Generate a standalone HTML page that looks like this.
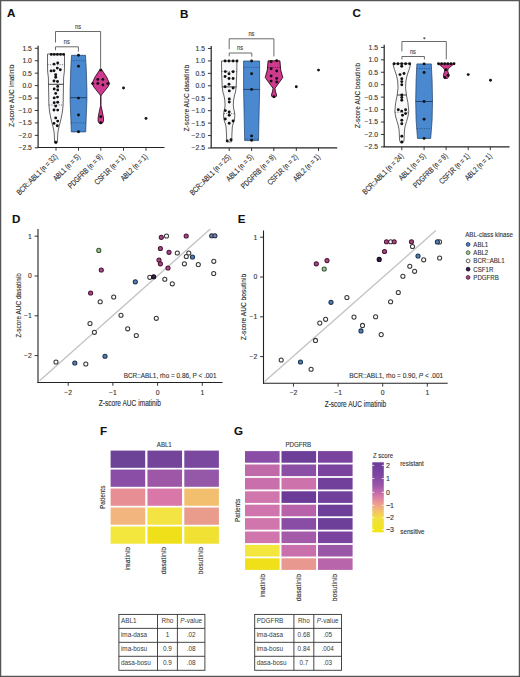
<!DOCTYPE html>
<html><head><meta charset="utf-8"><style>
html,body{margin:0;padding:0;background:#fff;overflow:hidden;width:520px;height:677px;}
svg{display:block;font-family:"Liberation Sans", sans-serif;}
text{stroke:#333;stroke-width:0.12px;paint-order:stroke;}
text.nb{stroke:none;}
</style></head><body>
<svg width="520" height="677" viewBox="0 0 520 677">
<rect width="520" height="677" fill="#fff"/>
<text x="6.9" y="17.0" font-size="11.6" text-anchor="start" fill="#111" font-weight="bold" >A</text>
<text x="179.9" y="17.5" font-size="11.6" text-anchor="start" fill="#111" font-weight="bold" >B</text>
<text x="352.4" y="16.5" font-size="11.6" text-anchor="start" fill="#111" font-weight="bold" >C</text>
<line x1="38.1" y1="45.67999999999999" x2="38.1" y2="147.5" stroke="#222" stroke-width="1.2" />
<line x1="34.800000000000004" y1="48.279999999999994" x2="38.1" y2="48.279999999999994" stroke="#222" stroke-width="0.9" />
<text x="31.900000000000002" y="50.67999999999999" font-size="6.8" text-anchor="end" fill="#333" font-weight="normal" >1.5</text>
<line x1="34.800000000000004" y1="60.72" x2="38.1" y2="60.72" stroke="#222" stroke-width="0.9" />
<text x="31.900000000000002" y="63.12" font-size="6.8" text-anchor="end" fill="#333" font-weight="normal" >1.0</text>
<line x1="34.800000000000004" y1="73.16" x2="38.1" y2="73.16" stroke="#222" stroke-width="0.9" />
<text x="31.900000000000002" y="75.56" font-size="6.8" text-anchor="end" fill="#333" font-weight="normal" >0.5</text>
<line x1="34.800000000000004" y1="85.6" x2="38.1" y2="85.6" stroke="#222" stroke-width="0.9" />
<text x="31.900000000000002" y="88.0" font-size="6.8" text-anchor="end" fill="#333" font-weight="normal" >0.0</text>
<line x1="34.800000000000004" y1="98.03999999999999" x2="38.1" y2="98.03999999999999" stroke="#222" stroke-width="0.9" />
<text x="31.900000000000002" y="100.44" font-size="6.8" text-anchor="end" fill="#333" font-weight="normal" >−0.5</text>
<line x1="34.800000000000004" y1="110.47999999999999" x2="38.1" y2="110.47999999999999" stroke="#222" stroke-width="0.9" />
<text x="31.900000000000002" y="112.88" font-size="6.8" text-anchor="end" fill="#333" font-weight="normal" >−1.0</text>
<line x1="34.800000000000004" y1="122.91999999999999" x2="38.1" y2="122.91999999999999" stroke="#222" stroke-width="0.9" />
<text x="31.900000000000002" y="125.32" font-size="6.8" text-anchor="end" fill="#333" font-weight="normal" >−1.5</text>
<line x1="34.800000000000004" y1="135.35999999999999" x2="38.1" y2="135.35999999999999" stroke="#222" stroke-width="0.9" />
<text x="31.900000000000002" y="137.76" font-size="6.8" text-anchor="end" fill="#333" font-weight="normal" >−2.0</text>
<line x1="34.800000000000004" y1="147.79999999999998" x2="38.1" y2="147.79999999999998" stroke="#222" stroke-width="0.9" />
<text x="31.900000000000002" y="150.2" font-size="6.8" text-anchor="end" fill="#333" font-weight="normal" >−2.5</text>
<text x="14.0" y="95.8" font-size="8.0" text-anchor="middle" fill="#2a2a2a" font-weight="normal" transform="rotate(-90 14.0 95.8)" textLength="62.60" lengthAdjust="spacingAndGlyphs" >Z-score AUC imatinib</text>
<line x1="37.5" y1="147.5" x2="164.5" y2="147.5" stroke="#222" stroke-width="1.2" />
<line x1="56.0" y1="147.5" x2="56.0" y2="150.7" stroke="#222" stroke-width="0.9" />
<text x="58.1" y="157.2" font-size="7.9" text-anchor="end" fill="#2a2a2a" font-weight="normal" transform="rotate(-45 58.1 157.2)" textLength="54.26" lengthAdjust="spacingAndGlyphs" >BCR::ABL1 (n = 32)</text>
<line x1="78.5" y1="147.5" x2="78.5" y2="150.7" stroke="#222" stroke-width="0.9" />
<text x="80.6" y="157.2" font-size="7.9" text-anchor="end" fill="#2a2a2a" font-weight="normal" transform="rotate(-45 80.6 157.2)" textLength="34.53" lengthAdjust="spacingAndGlyphs" >ABL1 (n = 5)</text>
<line x1="100.8" y1="147.5" x2="100.8" y2="150.7" stroke="#222" stroke-width="0.9" />
<text x="102.89999999999999" y="157.2" font-size="7.9" text-anchor="end" fill="#2a2a2a" font-weight="normal" transform="rotate(-45 102.89999999999999 157.2)" textLength="45.06" lengthAdjust="spacingAndGlyphs" >PDGFRB (n = 9)</text>
<line x1="123.5" y1="147.5" x2="123.5" y2="150.7" stroke="#222" stroke-width="0.9" />
<text x="125.6" y="157.2" font-size="7.9" text-anchor="end" fill="#2a2a2a" font-weight="normal" transform="rotate(-45 125.6 157.2)" textLength="39.62" lengthAdjust="spacingAndGlyphs" >CSF1R (n = 1)</text>
<line x1="146.0" y1="147.5" x2="146.0" y2="150.7" stroke="#222" stroke-width="0.9" />
<text x="148.1" y="157.2" font-size="7.9" text-anchor="end" fill="#2a2a2a" font-weight="normal" transform="rotate(-45 148.1 157.2)" textLength="34.53" lengthAdjust="spacingAndGlyphs" >ABL2 (n = 1)</text>
<path d="M55.5,42.5 L55.5,31.5 L100.6,31.5 L100.6,68.4" fill="none" stroke="#5a5a5a" stroke-width="0.9"/>
<text x="78.1" y="28.9" font-size="6.8" text-anchor="middle" fill="#444" font-weight="normal" textLength="6.00" lengthAdjust="spacingAndGlyphs" >ns</text>
<path d="M55.5,50.2 L55.5,46.8 L78.4,46.8 L78.4,51.7" fill="none" stroke="#5a5a5a" stroke-width="0.9"/>
<text x="66.8" y="43.7" font-size="6.8" text-anchor="middle" fill="#444" font-weight="normal" textLength="6.00" lengthAdjust="spacingAndGlyphs" >ns</text>
<path d="M64.50,54.00 L64.50,65.00 L64.40,71.00 L63.60,78.00 L63.50,84.00 L63.30,95.00 L63.10,105.00 L62.40,112.00 L61.20,118.00 L60.00,123.00 L58.70,128.00 L57.80,133.00 L57.50,140.00 L57.30,142.50 L56.60,143.50 L55.40,143.50 L54.70,142.50 L54.50,140.00 L54.20,133.00 L53.30,128.00 L52.00,123.00 L50.80,118.00 L49.60,112.00 L48.90,105.00 L48.70,95.00 L48.50,84.00 L48.40,78.00 L47.60,71.00 L47.50,65.00 L47.50,54.00 Z" fill="#f8f8fa" stroke="#4a4a4a" stroke-width="0.85" stroke-linejoin="round"/>
<line x1="47.5" y1="64.7" x2="64.5" y2="64.7" stroke="#333" stroke-width="0.6" stroke-dasharray="1.2,1.2"/>
<line x1="48.50545454545455" y1="84.3" x2="63.49454545454545" y2="84.3" stroke="#2a2a2a" stroke-width="0.9" />
<line x1="48.9" y1="105.0" x2="63.1" y2="105.0" stroke="#333" stroke-width="0.6" stroke-dasharray="1.2,1.2"/>
<circle cx="51.3" cy="54.4" r="1.45" fill="#111" stroke="none" stroke-width="0"/>
<circle cx="54.3" cy="54.4" r="1.45" fill="#111" stroke="none" stroke-width="0"/>
<circle cx="57.4" cy="54.4" r="1.45" fill="#111" stroke="none" stroke-width="0"/>
<circle cx="60.5" cy="54.4" r="1.45" fill="#111" stroke="none" stroke-width="0"/>
<circle cx="63.6" cy="54.4" r="1.45" fill="#111" stroke="none" stroke-width="0"/>
<circle cx="54" cy="64.1" r="1.45" fill="#111" stroke="none" stroke-width="0"/>
<circle cx="57.7" cy="63" r="1.45" fill="#111" stroke="none" stroke-width="0"/>
<circle cx="57.3" cy="68.1" r="1.45" fill="#111" stroke="none" stroke-width="0"/>
<circle cx="60.3" cy="69.7" r="1.45" fill="#111" stroke="none" stroke-width="0"/>
<circle cx="51.1" cy="70.9" r="1.45" fill="#111" stroke="none" stroke-width="0"/>
<circle cx="54" cy="70.7" r="1.45" fill="#111" stroke="none" stroke-width="0"/>
<circle cx="55.7" cy="74.7" r="1.45" fill="#111" stroke="none" stroke-width="0"/>
<circle cx="55.7" cy="77.3" r="1.45" fill="#111" stroke="none" stroke-width="0"/>
<circle cx="54" cy="81" r="1.45" fill="#111" stroke="none" stroke-width="0"/>
<circle cx="57.5" cy="81.5" r="1.45" fill="#111" stroke="none" stroke-width="0"/>
<circle cx="57.7" cy="86.4" r="1.45" fill="#111" stroke="none" stroke-width="0"/>
<circle cx="54.2" cy="89" r="1.45" fill="#111" stroke="none" stroke-width="0"/>
<circle cx="57.7" cy="90" r="1.45" fill="#111" stroke="none" stroke-width="0"/>
<circle cx="55.7" cy="93.4" r="1.45" fill="#111" stroke="none" stroke-width="0"/>
<circle cx="54.2" cy="97.9" r="1.45" fill="#111" stroke="none" stroke-width="0"/>
<circle cx="57.5" cy="97.1" r="1.45" fill="#111" stroke="none" stroke-width="0"/>
<circle cx="54.2" cy="102.8" r="1.45" fill="#111" stroke="none" stroke-width="0"/>
<circle cx="57.7" cy="102.3" r="1.45" fill="#111" stroke="none" stroke-width="0"/>
<circle cx="55.7" cy="106.1" r="1.45" fill="#111" stroke="none" stroke-width="0"/>
<circle cx="54" cy="110" r="1.45" fill="#111" stroke="none" stroke-width="0"/>
<circle cx="57.7" cy="110.1" r="1.45" fill="#111" stroke="none" stroke-width="0"/>
<circle cx="55.7" cy="117.9" r="1.45" fill="#111" stroke="none" stroke-width="0"/>
<circle cx="57.7" cy="121.1" r="1.45" fill="#111" stroke="none" stroke-width="0"/>
<circle cx="54" cy="123.4" r="1.45" fill="#111" stroke="none" stroke-width="0"/>
<circle cx="57.3" cy="125.7" r="1.45" fill="#111" stroke="none" stroke-width="0"/>
<circle cx="55.7" cy="142.2" r="1.45" fill="#111" stroke="none" stroke-width="0"/>
<path d="M85.50,55.30 L86.30,70.00 L86.90,90.00 L86.90,100.00 L86.30,115.00 L85.70,131.90 L71.30,131.90 L70.70,115.00 L70.10,100.00 L70.10,90.00 L70.70,70.00 L71.50,55.30 Z" fill="#4a89d0" stroke="#1d3d66" stroke-width="0.7" stroke-linejoin="round"/>
<line x1="71.20612244897958" y1="60.7" x2="85.79387755102042" y2="60.7" stroke="#1d3d66" stroke-width="0.6" stroke-dasharray="1.2,1.2"/>
<line x1="70.1" y1="97.7" x2="86.9" y2="97.7" stroke="#1d3d66" stroke-width="0.9" />
<line x1="70.98047337278106" y1="122.9" x2="86.01952662721894" y2="122.9" stroke="#1d3d66" stroke-width="0.6" stroke-dasharray="1.2,1.2"/>
<circle cx="78.5" cy="55.3" r="1.45" fill="#111" stroke="none" stroke-width="0"/>
<circle cx="78.5" cy="66.3" r="1.45" fill="#111" stroke="none" stroke-width="0"/>
<circle cx="78.5" cy="98.1" r="1.45" fill="#111" stroke="none" stroke-width="0"/>
<circle cx="78.5" cy="115.0" r="1.45" fill="#111" stroke="none" stroke-width="0"/>
<circle cx="78.5" cy="131.7" r="1.45" fill="#111" stroke="none" stroke-width="0"/>
<path d="M101.60,69.50 L103.30,72.00 L106.60,77.00 L109.60,83.60 L107.80,87.00 L104.60,91.00 L101.40,95.00 L100.90,96.50 L100.90,105.50 L101.30,107.00 L102.00,110.00 L102.80,114.00 L103.50,118.00 L103.50,121.00 L102.60,123.00 L101.60,123.60 L100.00,123.60 L99.00,123.00 L98.10,121.00 L98.10,118.00 L98.80,114.00 L99.60,110.00 L100.30,107.00 L100.70,105.50 L100.70,96.50 L100.20,95.00 L97.00,91.00 L93.80,87.00 L92.00,83.60 L95.00,77.00 L98.30,72.00 L100.00,69.50 Z" fill="#cf3a8e" stroke="#2e0a1c" stroke-width="0.85" stroke-linejoin="round"/>
<circle cx="100.8" cy="70" r="1.45" fill="#111" stroke="none" stroke-width="0"/>
<circle cx="97.8" cy="79.4" r="1.45" fill="#111" stroke="none" stroke-width="0"/>
<circle cx="102.9" cy="79.4" r="1.45" fill="#111" stroke="none" stroke-width="0"/>
<circle cx="92.7" cy="83.6" r="1.45" fill="#111" stroke="none" stroke-width="0"/>
<circle cx="97.8" cy="83.5" r="1.45" fill="#111" stroke="none" stroke-width="0"/>
<circle cx="102.9" cy="84.9" r="1.45" fill="#111" stroke="none" stroke-width="0"/>
<circle cx="107.8" cy="83.6" r="1.45" fill="#111" stroke="none" stroke-width="0"/>
<circle cx="100.8" cy="116.7" r="1.45" fill="#111" stroke="none" stroke-width="0"/>
<circle cx="100.8" cy="122.8" r="1.45" fill="#111" stroke="none" stroke-width="0"/>
<circle cx="123.5" cy="88.0" r="1.45" fill="#111" stroke="none" stroke-width="0"/>
<circle cx="146.0" cy="118.4" r="1.45" fill="#111" stroke="none" stroke-width="0"/>
<line x1="211.2" y1="45.879999999999995" x2="211.2" y2="147.8" stroke="#222" stroke-width="1.2" />
<line x1="207.89999999999998" y1="48.48" x2="211.2" y2="48.48" stroke="#222" stroke-width="0.9" />
<text x="205.0" y="50.879999999999995" font-size="6.8" text-anchor="end" fill="#333" font-weight="normal" >1.5</text>
<line x1="207.89999999999998" y1="60.92" x2="211.2" y2="60.92" stroke="#222" stroke-width="0.9" />
<text x="205.0" y="63.32" font-size="6.8" text-anchor="end" fill="#333" font-weight="normal" >1.0</text>
<line x1="207.89999999999998" y1="73.36" x2="211.2" y2="73.36" stroke="#222" stroke-width="0.9" />
<text x="205.0" y="75.76" font-size="6.8" text-anchor="end" fill="#333" font-weight="normal" >0.5</text>
<line x1="207.89999999999998" y1="85.8" x2="211.2" y2="85.8" stroke="#222" stroke-width="0.9" />
<text x="205.0" y="88.2" font-size="6.8" text-anchor="end" fill="#333" font-weight="normal" >0.0</text>
<line x1="207.89999999999998" y1="98.24" x2="211.2" y2="98.24" stroke="#222" stroke-width="0.9" />
<text x="205.0" y="100.64" font-size="6.8" text-anchor="end" fill="#333" font-weight="normal" >−0.5</text>
<line x1="207.89999999999998" y1="110.67999999999999" x2="211.2" y2="110.67999999999999" stroke="#222" stroke-width="0.9" />
<text x="205.0" y="113.08" font-size="6.8" text-anchor="end" fill="#333" font-weight="normal" >−1.0</text>
<line x1="207.89999999999998" y1="123.12" x2="211.2" y2="123.12" stroke="#222" stroke-width="0.9" />
<text x="205.0" y="125.52000000000001" font-size="6.8" text-anchor="end" fill="#333" font-weight="normal" >−1.5</text>
<line x1="207.89999999999998" y1="135.56" x2="211.2" y2="135.56" stroke="#222" stroke-width="0.9" />
<text x="205.0" y="137.96" font-size="6.8" text-anchor="end" fill="#333" font-weight="normal" >−2.0</text>
<line x1="207.89999999999998" y1="148.0" x2="211.2" y2="148.0" stroke="#222" stroke-width="0.9" />
<text x="205.0" y="150.4" font-size="6.8" text-anchor="end" fill="#333" font-weight="normal" >−2.5</text>
<text x="188.6" y="98.1" font-size="8.0" text-anchor="middle" fill="#2a2a2a" font-weight="normal" transform="rotate(-90 188.6 98.1)" textLength="66.80" lengthAdjust="spacingAndGlyphs" >Z-score AUC dasatinib</text>
<line x1="210.6" y1="147.8" x2="337.2" y2="147.8" stroke="#222" stroke-width="1.2" />
<line x1="229.2" y1="147.8" x2="229.2" y2="151.0" stroke="#222" stroke-width="0.9" />
<text x="231.29999999999998" y="157.5" font-size="7.9" text-anchor="end" fill="#2a2a2a" font-weight="normal" transform="rotate(-45 231.29999999999998 157.5)" textLength="54.26" lengthAdjust="spacingAndGlyphs" >BCR::ABL1 (n = 25)</text>
<line x1="251.6" y1="147.8" x2="251.6" y2="151.0" stroke="#222" stroke-width="0.9" />
<text x="253.7" y="157.5" font-size="7.9" text-anchor="end" fill="#2a2a2a" font-weight="normal" transform="rotate(-45 253.7 157.5)" textLength="34.53" lengthAdjust="spacingAndGlyphs" >ABL1 (n = 5)</text>
<line x1="273.8" y1="147.8" x2="273.8" y2="151.0" stroke="#222" stroke-width="0.9" />
<text x="275.90000000000003" y="157.5" font-size="7.9" text-anchor="end" fill="#2a2a2a" font-weight="normal" transform="rotate(-45 275.90000000000003 157.5)" textLength="45.06" lengthAdjust="spacingAndGlyphs" >PDGFRB (n = 9)</text>
<line x1="296.3" y1="147.8" x2="296.3" y2="151.0" stroke="#222" stroke-width="0.9" />
<text x="298.40000000000003" y="157.5" font-size="7.9" text-anchor="end" fill="#2a2a2a" font-weight="normal" transform="rotate(-45 298.40000000000003 157.5)" textLength="39.62" lengthAdjust="spacingAndGlyphs" >CSF1R (n = 2)</text>
<line x1="318.5" y1="147.8" x2="318.5" y2="151.0" stroke="#222" stroke-width="0.9" />
<text x="320.6" y="157.5" font-size="7.9" text-anchor="end" fill="#2a2a2a" font-weight="normal" transform="rotate(-45 320.6 157.5)" textLength="34.53" lengthAdjust="spacingAndGlyphs" >ABL2 (n = 1)</text>
<path d="M229.2,49.2 L229.2,38.8 L273.9,38.8 L273.9,56.4" fill="none" stroke="#5a5a5a" stroke-width="0.9"/>
<text x="251.4" y="36.1" font-size="6.8" text-anchor="middle" fill="#444" font-weight="normal" textLength="6.00" lengthAdjust="spacingAndGlyphs" >ns</text>
<path d="M229.2,56.4 L229.2,53.0 L251.8,53.0 L251.8,56.7" fill="none" stroke="#5a5a5a" stroke-width="0.9"/>
<text x="240.0" y="50.2" font-size="6.8" text-anchor="middle" fill="#444" font-weight="normal" textLength="6.00" lengthAdjust="spacingAndGlyphs" >ns</text>
<path d="M236.90,61.00 L236.80,72.00 L236.40,82.00 L236.20,87.00 L235.50,92.00 L234.60,95.00 L233.60,100.00 L233.30,105.00 L233.70,109.00 L234.50,112.00 L234.80,115.00 L234.70,118.00 L234.00,121.00 L233.00,124.00 L232.30,127.00 L231.90,135.00 L231.70,141.90 L226.70,141.90 L226.50,135.00 L226.10,127.00 L225.40,124.00 L224.40,121.00 L223.70,118.00 L223.60,115.00 L223.90,112.00 L224.70,109.00 L225.10,105.00 L224.80,100.00 L223.80,95.00 L222.90,92.00 L222.20,87.00 L222.00,82.00 L221.60,72.00 L221.50,61.00 Z" fill="#f8f8fa" stroke="#4a4a4a" stroke-width="0.85" stroke-linejoin="round"/>
<line x1="221.59454545454545" y1="71.4" x2="236.80545454545452" y2="71.4" stroke="#333" stroke-width="0.6" stroke-dasharray="1.2,1.2"/>
<line x1="222.196" y1="86.9" x2="236.20399999999998" y2="86.9" stroke="#2a2a2a" stroke-width="0.9" />
<line x1="223.73999999999998" y1="113.6" x2="234.66" y2="113.6" stroke="#333" stroke-width="0.6" stroke-dasharray="1.2,1.2"/>
<circle cx="225.1" cy="61" r="1.45" fill="#111" stroke="none" stroke-width="0"/>
<circle cx="229" cy="61" r="1.45" fill="#111" stroke="none" stroke-width="0"/>
<circle cx="233.1" cy="61" r="1.45" fill="#111" stroke="none" stroke-width="0"/>
<circle cx="237" cy="61" r="1.45" fill="#111" stroke="none" stroke-width="0"/>
<circle cx="225.3" cy="71.6" r="1.45" fill="#111" stroke="none" stroke-width="0"/>
<circle cx="233.1" cy="71.8" r="1.45" fill="#111" stroke="none" stroke-width="0"/>
<circle cx="229" cy="73.8" r="1.45" fill="#111" stroke="none" stroke-width="0"/>
<circle cx="225.1" cy="76.5" r="1.45" fill="#111" stroke="none" stroke-width="0"/>
<circle cx="229" cy="78.5" r="1.45" fill="#111" stroke="none" stroke-width="0"/>
<circle cx="233.1" cy="78.5" r="1.45" fill="#111" stroke="none" stroke-width="0"/>
<circle cx="229" cy="84.3" r="1.45" fill="#111" stroke="none" stroke-width="0"/>
<circle cx="225.1" cy="86.7" r="1.45" fill="#111" stroke="none" stroke-width="0"/>
<circle cx="233.1" cy="88" r="1.45" fill="#111" stroke="none" stroke-width="0"/>
<circle cx="229.3" cy="90.9" r="1.45" fill="#111" stroke="none" stroke-width="0"/>
<circle cx="229.3" cy="98.9" r="1.45" fill="#111" stroke="none" stroke-width="0"/>
<circle cx="229.3" cy="102" r="1.45" fill="#111" stroke="none" stroke-width="0"/>
<circle cx="225.3" cy="110.6" r="1.45" fill="#111" stroke="none" stroke-width="0"/>
<circle cx="229.2" cy="112" r="1.45" fill="#111" stroke="none" stroke-width="0"/>
<circle cx="229.2" cy="115.3" r="1.45" fill="#111" stroke="none" stroke-width="0"/>
<circle cx="225.3" cy="119" r="1.45" fill="#111" stroke="none" stroke-width="0"/>
<circle cx="233.1" cy="121" r="1.45" fill="#111" stroke="none" stroke-width="0"/>
<circle cx="229.2" cy="123.3" r="1.45" fill="#111" stroke="none" stroke-width="0"/>
<circle cx="227.2" cy="140.9" r="1.45" fill="#111" stroke="none" stroke-width="0"/>
<circle cx="231" cy="139.7" r="1.45" fill="#111" stroke="none" stroke-width="0"/>
<path d="M259.60,61.00 L259.60,90.00 L258.50,140.60 L244.70,140.60 L243.60,90.00 L243.60,61.00 Z" fill="#4a89d0" stroke="#1d3d66" stroke-width="0.7" stroke-linejoin="round"/>
<line x1="243.6" y1="67.3" x2="259.6" y2="67.3" stroke="#1d3d66" stroke-width="0.6" stroke-dasharray="1.2,1.2"/>
<line x1="243.6" y1="89.4" x2="259.6" y2="89.4" stroke="#1d3d66" stroke-width="0.9" />
<line x1="244.66521739130434" y1="139.0" x2="258.53478260869565" y2="139.0" stroke="#1d3d66" stroke-width="0.6" stroke-dasharray="1.2,1.2"/>
<circle cx="251.6" cy="61" r="1.45" fill="#111" stroke="none" stroke-width="0"/>
<circle cx="251.6" cy="73.7" r="1.45" fill="#111" stroke="none" stroke-width="0"/>
<circle cx="251.6" cy="89.4" r="1.45" fill="#111" stroke="none" stroke-width="0"/>
<circle cx="251.6" cy="135.9" r="1.45" fill="#111" stroke="none" stroke-width="0"/>
<circle cx="251.6" cy="140.3" r="1.45" fill="#111" stroke="none" stroke-width="0"/>
<path d="M279.90,60.80 L280.00,62.00 L280.70,70.00 L282.80,77.50 L281.00,80.00 L278.10,84.00 L275.00,88.20 L275.30,91.00 L276.30,94.00 L276.50,96.20 L275.20,96.90 L272.80,96.90 L271.50,96.20 L271.70,94.00 L272.70,91.00 L273.00,88.20 L269.90,84.00 L267.00,80.00 L265.20,77.50 L267.30,70.00 L268.00,62.00 L268.10,60.80 Z" fill="#cf3a8e" stroke="#2e0a1c" stroke-width="0.9" stroke-linejoin="round"/>
<line x1="267.51875" y1="67.5" x2="280.48125" y2="67.5" stroke="#2e0a1c" stroke-width="0.6" stroke-dasharray="1.2,1.2"/>
<circle cx="271.1" cy="61.8" r="1.45" fill="#111" stroke="none" stroke-width="0"/>
<circle cx="276.7" cy="60.8" r="1.45" fill="#111" stroke="none" stroke-width="0"/>
<circle cx="271.1" cy="68.7" r="1.45" fill="#111" stroke="none" stroke-width="0"/>
<circle cx="276.7" cy="71" r="1.45" fill="#111" stroke="none" stroke-width="0"/>
<circle cx="271.1" cy="76" r="1.45" fill="#111" stroke="none" stroke-width="0"/>
<circle cx="276.7" cy="78.4" r="1.45" fill="#111" stroke="none" stroke-width="0"/>
<circle cx="271.1" cy="81.1" r="1.45" fill="#111" stroke="none" stroke-width="0"/>
<circle cx="276.7" cy="82" r="1.45" fill="#111" stroke="none" stroke-width="0"/>
<circle cx="273.9" cy="96.8" r="1.45" fill="#111" stroke="none" stroke-width="0"/>
<circle cx="296.3" cy="86.7" r="1.45" fill="#111" stroke="none" stroke-width="0"/>
<circle cx="318.5" cy="70.1" r="1.45" fill="#111" stroke="none" stroke-width="0"/>
<line x1="384.2" y1="44.78" x2="384.2" y2="146.9" stroke="#222" stroke-width="1.2" />
<line x1="380.9" y1="47.38" x2="384.2" y2="47.38" stroke="#222" stroke-width="0.9" />
<text x="378.0" y="49.78" font-size="6.8" text-anchor="end" fill="#333" font-weight="normal" >1.5</text>
<line x1="380.9" y1="59.82000000000001" x2="384.2" y2="59.82000000000001" stroke="#222" stroke-width="0.9" />
<text x="378.0" y="62.220000000000006" font-size="6.8" text-anchor="end" fill="#333" font-weight="normal" >1.0</text>
<line x1="380.9" y1="72.26" x2="384.2" y2="72.26" stroke="#222" stroke-width="0.9" />
<text x="378.0" y="74.66000000000001" font-size="6.8" text-anchor="end" fill="#333" font-weight="normal" >0.5</text>
<line x1="380.9" y1="84.7" x2="384.2" y2="84.7" stroke="#222" stroke-width="0.9" />
<text x="378.0" y="87.10000000000001" font-size="6.8" text-anchor="end" fill="#333" font-weight="normal" >0.0</text>
<line x1="380.9" y1="97.14" x2="384.2" y2="97.14" stroke="#222" stroke-width="0.9" />
<text x="378.0" y="99.54" font-size="6.8" text-anchor="end" fill="#333" font-weight="normal" >−0.5</text>
<line x1="380.9" y1="109.58" x2="384.2" y2="109.58" stroke="#222" stroke-width="0.9" />
<text x="378.0" y="111.98" font-size="6.8" text-anchor="end" fill="#333" font-weight="normal" >−1.0</text>
<line x1="380.9" y1="122.02000000000001" x2="384.2" y2="122.02000000000001" stroke="#222" stroke-width="0.9" />
<text x="378.0" y="124.42000000000002" font-size="6.8" text-anchor="end" fill="#333" font-weight="normal" >−1.5</text>
<line x1="380.9" y1="134.46" x2="384.2" y2="134.46" stroke="#222" stroke-width="0.9" />
<text x="378.0" y="136.86" font-size="6.8" text-anchor="end" fill="#333" font-weight="normal" >−2.0</text>
<line x1="380.9" y1="146.9" x2="384.2" y2="146.9" stroke="#222" stroke-width="0.9" />
<text x="378.0" y="149.3" font-size="6.8" text-anchor="end" fill="#333" font-weight="normal" >−2.5</text>
<text x="360.4" y="95.5" font-size="8.0" text-anchor="middle" fill="#2a2a2a" font-weight="normal" transform="rotate(-90 360.4 95.5)" textLength="65.50" lengthAdjust="spacingAndGlyphs" >Z-score AUC bosutinib</text>
<line x1="383.59999999999997" y1="146.9" x2="509.5" y2="146.9" stroke="#222" stroke-width="1.2" />
<line x1="401.8" y1="146.9" x2="401.8" y2="150.1" stroke="#222" stroke-width="0.9" />
<text x="403.90000000000003" y="156.6" font-size="7.9" text-anchor="end" fill="#2a2a2a" font-weight="normal" transform="rotate(-45 403.90000000000003 156.6)" textLength="54.26" lengthAdjust="spacingAndGlyphs" >BCR::ABL1 (n = 24)</text>
<line x1="424.1" y1="146.9" x2="424.1" y2="150.1" stroke="#222" stroke-width="0.9" />
<text x="426.20000000000005" y="156.6" font-size="7.9" text-anchor="end" fill="#2a2a2a" font-weight="normal" transform="rotate(-45 426.20000000000005 156.6)" textLength="34.53" lengthAdjust="spacingAndGlyphs" >ABL1 (n = 5)</text>
<line x1="446.1" y1="146.9" x2="446.1" y2="150.1" stroke="#222" stroke-width="0.9" />
<text x="448.20000000000005" y="156.6" font-size="7.9" text-anchor="end" fill="#2a2a2a" font-weight="normal" transform="rotate(-45 448.20000000000005 156.6)" textLength="45.06" lengthAdjust="spacingAndGlyphs" >PDGFRB (n = 9)</text>
<line x1="468.2" y1="146.9" x2="468.2" y2="150.1" stroke="#222" stroke-width="0.9" />
<text x="470.3" y="156.6" font-size="7.9" text-anchor="end" fill="#2a2a2a" font-weight="normal" transform="rotate(-45 470.3 156.6)" textLength="39.62" lengthAdjust="spacingAndGlyphs" >CSF1R (n = 1)</text>
<line x1="490.3" y1="146.9" x2="490.3" y2="150.1" stroke="#222" stroke-width="0.9" />
<text x="492.40000000000003" y="156.6" font-size="7.9" text-anchor="end" fill="#2a2a2a" font-weight="normal" transform="rotate(-45 492.40000000000003 156.6)" textLength="34.53" lengthAdjust="spacingAndGlyphs" >ABL2 (n = 1)</text>
<path d="M401.9,51.3 L401.9,41.5 L446.3,41.5 L446.3,59.4" fill="none" stroke="#5a5a5a" stroke-width="0.9"/>
<path d="M423.29999999999995,38.3 L425.5,38.3 M424.4,37.199999999999996 L424.4,39.4 M423.59999999999997,37.5 L425.2,39.099999999999994 M423.59999999999997,39.099999999999994 L425.2,37.5" stroke="#444" stroke-width="0.6"/>
<path d="M401.9,59.5 L401.9,56.5 L424.4,56.5 L424.4,59.5" fill="none" stroke="#5a5a5a" stroke-width="0.9"/>
<text x="412.9" y="53.7" font-size="6.8" text-anchor="middle" fill="#444" font-weight="normal" textLength="6.00" lengthAdjust="spacingAndGlyphs" >ns</text>
<path d="M410.60,63.70 L410.10,66.00 L409.20,69.40 L407.20,75.00 L405.90,81.00 L405.60,88.20 L406.40,95.00 L407.90,102.60 L408.80,111.30 L408.10,116.00 L406.60,121.40 L405.20,126.00 L404.50,130.00 L404.20,136.00 L404.00,140.50 L403.00,142.80 L400.60,142.80 L399.60,140.50 L399.40,136.00 L399.10,130.00 L398.40,126.00 L397.00,121.40 L395.50,116.00 L394.80,111.30 L395.70,102.60 L397.20,95.00 L398.00,88.20 L397.70,81.00 L396.40,75.00 L394.40,69.40 L393.50,66.00 L393.00,63.70 Z" fill="#f8f8fa" stroke="#4a4a4a" stroke-width="0.85" stroke-linejoin="round"/>
<line x1="397.2" y1="95.0" x2="406.40000000000003" y2="95.0" stroke="#2a2a2a" stroke-width="0.9" />
<line x1="394.9340425531915" y1="112.2" x2="408.66595744680853" y2="112.2" stroke="#333" stroke-width="0.6" stroke-dasharray="1.2,1.2"/>
<circle cx="394.1" cy="63.7" r="1.45" fill="#111" stroke="none" stroke-width="0"/>
<circle cx="397.9" cy="63.7" r="1.45" fill="#111" stroke="none" stroke-width="0"/>
<circle cx="401.7" cy="63.7" r="1.45" fill="#111" stroke="none" stroke-width="0"/>
<circle cx="405.6" cy="63.7" r="1.45" fill="#111" stroke="none" stroke-width="0"/>
<circle cx="409.6" cy="63.7" r="1.45" fill="#111" stroke="none" stroke-width="0"/>
<circle cx="401.7" cy="66.2" r="1.45" fill="#111" stroke="none" stroke-width="0"/>
<circle cx="400" cy="74.6" r="1.45" fill="#111" stroke="none" stroke-width="0"/>
<circle cx="404" cy="73.5" r="1.45" fill="#111" stroke="none" stroke-width="0"/>
<circle cx="401.8" cy="78.8" r="1.45" fill="#111" stroke="none" stroke-width="0"/>
<circle cx="401.8" cy="81.6" r="1.45" fill="#111" stroke="none" stroke-width="0"/>
<circle cx="401.8" cy="84.7" r="1.45" fill="#111" stroke="none" stroke-width="0"/>
<circle cx="401.8" cy="95" r="1.45" fill="#111" stroke="none" stroke-width="0"/>
<circle cx="401.8" cy="97.5" r="1.45" fill="#111" stroke="none" stroke-width="0"/>
<circle cx="401.8" cy="100.3" r="1.45" fill="#111" stroke="none" stroke-width="0"/>
<circle cx="398.3" cy="109.7" r="1.45" fill="#111" stroke="none" stroke-width="0"/>
<circle cx="401.7" cy="111.1" r="1.45" fill="#111" stroke="none" stroke-width="0"/>
<circle cx="405.6" cy="109.7" r="1.45" fill="#111" stroke="none" stroke-width="0"/>
<circle cx="405.6" cy="113.6" r="1.45" fill="#111" stroke="none" stroke-width="0"/>
<circle cx="402.5" cy="115.3" r="1.45" fill="#111" stroke="none" stroke-width="0"/>
<circle cx="401.8" cy="120.2" r="1.45" fill="#111" stroke="none" stroke-width="0"/>
<circle cx="401.8" cy="123.7" r="1.45" fill="#111" stroke="none" stroke-width="0"/>
<circle cx="401.8" cy="136.3" r="1.45" fill="#111" stroke="none" stroke-width="0"/>
<circle cx="401.8" cy="142" r="1.45" fill="#111" stroke="none" stroke-width="0"/>
<path d="M431.30,63.90 L432.10,80.00 L432.50,101.00 L432.10,120.00 L430.70,138.40 L417.50,138.40 L416.10,120.00 L415.70,101.00 L416.10,80.00 L416.90,63.90 Z" fill="#4a89d0" stroke="#1d3d66" stroke-width="0.7" stroke-linejoin="round"/>
<line x1="416.6714285714286" y1="68.5" x2="431.52857142857147" y2="68.5" stroke="#1d3d66" stroke-width="0.6" stroke-dasharray="1.2,1.2"/>
<line x1="415.7105263157895" y1="101.5" x2="432.48947368421057" y2="101.5" stroke="#1d3d66" stroke-width="0.9" />
<line x1="416.754347826087" y1="128.6" x2="431.44565217391306" y2="128.6" stroke="#1d3d66" stroke-width="0.6" stroke-dasharray="1.2,1.2"/>
<circle cx="424.1" cy="63.9" r="1.45" fill="#111" stroke="none" stroke-width="0"/>
<circle cx="424.1" cy="72.5" r="1.45" fill="#111" stroke="none" stroke-width="0"/>
<circle cx="424.1" cy="101.5" r="1.45" fill="#111" stroke="none" stroke-width="0"/>
<circle cx="424.1" cy="119.2" r="1.45" fill="#111" stroke="none" stroke-width="0"/>
<circle cx="424.1" cy="138.4" r="1.45" fill="#111" stroke="none" stroke-width="0"/>
<path d="M454.20,63.80 L452.70,65.00 L450.00,67.00 L448.20,69.00 L447.70,71.00 L448.40,73.00 L449.00,75.00 L448.80,77.00 L447.40,78.40 L445.00,78.40 L443.60,77.00 L443.40,75.00 L444.00,73.00 L444.70,71.00 L444.20,69.00 L442.40,67.00 L439.70,65.00 L438.20,63.80 Z" fill="#cf3a8e" stroke="#2e0a1c" stroke-width="0.8" stroke-linejoin="round"/>
<circle cx="438.5" cy="63.8" r="1.45" fill="#111" stroke="none" stroke-width="0"/>
<circle cx="441.6" cy="63.8" r="1.45" fill="#111" stroke="none" stroke-width="0"/>
<circle cx="444.7" cy="63.8" r="1.45" fill="#111" stroke="none" stroke-width="0"/>
<circle cx="447.8" cy="63.8" r="1.45" fill="#111" stroke="none" stroke-width="0"/>
<circle cx="450.9" cy="63.8" r="1.45" fill="#111" stroke="none" stroke-width="0"/>
<circle cx="454.0" cy="63.8" r="1.45" fill="#111" stroke="none" stroke-width="0"/>
<circle cx="446.0" cy="69.8" r="1.45" fill="#111" stroke="none" stroke-width="0"/>
<circle cx="448.0" cy="75.2" r="1.45" fill="#111" stroke="none" stroke-width="0"/>
<circle cx="444.8" cy="77.5" r="1.45" fill="#111" stroke="none" stroke-width="0"/>
<circle cx="468.2" cy="74.6" r="1.45" fill="#111" stroke="none" stroke-width="0"/>
<circle cx="490.5" cy="80.3" r="1.45" fill="#111" stroke="none" stroke-width="0"/>
<text x="12.0" y="222.6" font-size="11.6" text-anchor="start" fill="#111" font-weight="bold" >D</text>
<text x="237.8" y="222.6" font-size="11.6" text-anchor="start" fill="#111" font-weight="bold" >E</text>
<line x1="38.0" y1="229.0" x2="38.0" y2="383.0" stroke="#222" stroke-width="1.1" />
<line x1="37.5" y1="382.5" x2="222.5" y2="382.5" stroke="#222" stroke-width="1.1" />
<line x1="34.5" y1="236.2" x2="38.0" y2="236.2" stroke="#222" stroke-width="0.9" />
<text x="31.8" y="238.6" font-size="6.8" text-anchor="end" fill="#333" font-weight="normal" >1</text>
<line x1="34.5" y1="276.0" x2="38.0" y2="276.0" stroke="#222" stroke-width="0.9" />
<text x="31.8" y="278.4" font-size="6.8" text-anchor="end" fill="#333" font-weight="normal" >0</text>
<line x1="34.5" y1="315.8" x2="38.0" y2="315.8" stroke="#222" stroke-width="0.9" />
<text x="31.8" y="318.2" font-size="6.8" text-anchor="end" fill="#333" font-weight="normal" >−1</text>
<line x1="34.5" y1="355.6" x2="38.0" y2="355.6" stroke="#222" stroke-width="0.9" />
<text x="31.8" y="358.0" font-size="6.8" text-anchor="end" fill="#333" font-weight="normal" >−2</text>
<line x1="68.19999999999999" y1="382.5" x2="68.19999999999999" y2="385.8" stroke="#222" stroke-width="0.9" />
<text x="68.19999999999999" y="394.5" font-size="6.8" text-anchor="middle" fill="#333" font-weight="normal" >−2</text>
<line x1="112.89999999999999" y1="382.5" x2="112.89999999999999" y2="385.8" stroke="#222" stroke-width="0.9" />
<text x="112.89999999999999" y="394.5" font-size="6.8" text-anchor="middle" fill="#333" font-weight="normal" >−1</text>
<line x1="157.6" y1="382.5" x2="157.6" y2="385.8" stroke="#222" stroke-width="0.9" />
<text x="157.6" y="394.5" font-size="6.8" text-anchor="middle" fill="#333" font-weight="normal" >0</text>
<line x1="202.3" y1="382.5" x2="202.3" y2="385.8" stroke="#222" stroke-width="0.9" />
<text x="202.3" y="394.5" font-size="6.8" text-anchor="middle" fill="#333" font-weight="normal" >1</text>
<text x="20.5" y="305.5" font-size="8.0" text-anchor="middle" fill="#2a2a2a" font-weight="normal" transform="rotate(-90 20.5 305.5)" textLength="64.70" lengthAdjust="spacingAndGlyphs" >Z-score AUC dasatinib</text>
<text x="98.7" y="405.8" font-size="8.2" text-anchor="start" fill="#2a2a2a" font-weight="normal" textLength="62.20" lengthAdjust="spacingAndGlyphs" >Z-score AUC imatinib</text>
<line x1="39.6" y1="380.8" x2="210.3" y2="228.9" stroke="#c2c2c2" stroke-width="1.3" />
<text x="123.7" y="377.9" font-size="6.9" text-anchor="start" fill="#333" font-weight="normal" textLength="92.80" lengthAdjust="spacingAndGlyphs" >BCR::ABL1, rho = 0.86, P &lt; .001</text>
<circle cx="121" cy="315.2" r="2.05" fill="#ffffff" stroke="#3a3a3a" stroke-width="1.05"/>
<circle cx="100.2" cy="301.7" r="2.05" fill="#ffffff" stroke="#3a3a3a" stroke-width="1.05"/>
<circle cx="113.7" cy="297" r="2.05" fill="#ffffff" stroke="#3a3a3a" stroke-width="1.05"/>
<circle cx="90" cy="323.5" r="2.05" fill="#ffffff" stroke="#3a3a3a" stroke-width="1.05"/>
<circle cx="94.4" cy="332.3" r="2.05" fill="#ffffff" stroke="#3a3a3a" stroke-width="1.05"/>
<circle cx="127.7" cy="328.8" r="2.05" fill="#ffffff" stroke="#3a3a3a" stroke-width="1.05"/>
<circle cx="56" cy="362" r="2.05" fill="#ffffff" stroke="#3a3a3a" stroke-width="1.05"/>
<circle cx="85.8" cy="364" r="2.05" fill="#ffffff" stroke="#3a3a3a" stroke-width="1.05"/>
<circle cx="156.3" cy="318.3" r="2.05" fill="#ffffff" stroke="#3a3a3a" stroke-width="1.05"/>
<circle cx="136.3" cy="335.5" r="2.05" fill="#ffffff" stroke="#3a3a3a" stroke-width="1.05"/>
<circle cx="166.5" cy="236" r="2.05" fill="#ffffff" stroke="#3a3a3a" stroke-width="1.05"/>
<circle cx="177.3" cy="253" r="2.05" fill="#ffffff" stroke="#3a3a3a" stroke-width="1.05"/>
<circle cx="188.8" cy="253" r="2.05" fill="#ffffff" stroke="#3a3a3a" stroke-width="1.05"/>
<circle cx="186.3" cy="256.5" r="2.05" fill="#ffffff" stroke="#3a3a3a" stroke-width="1.05"/>
<circle cx="184.4" cy="263.8" r="2.05" fill="#ffffff" stroke="#3a3a3a" stroke-width="1.05"/>
<circle cx="198.3" cy="264.6" r="2.05" fill="#ffffff" stroke="#3a3a3a" stroke-width="1.05"/>
<circle cx="213.8" cy="261.3" r="2.05" fill="#ffffff" stroke="#3a3a3a" stroke-width="1.05"/>
<circle cx="213.7" cy="273.5" r="2.05" fill="#ffffff" stroke="#3a3a3a" stroke-width="1.05"/>
<circle cx="149.8" cy="277.3" r="2.05" fill="#ffffff" stroke="#3a3a3a" stroke-width="1.05"/>
<circle cx="164.8" cy="279.2" r="2.05" fill="#ffffff" stroke="#3a3a3a" stroke-width="1.05"/>
<circle cx="172.3" cy="283.8" r="2.05" fill="#ffffff" stroke="#3a3a3a" stroke-width="1.05"/>
<circle cx="98.8" cy="250.4" r="2.05" fill="#9cc592" stroke="#3a5538" stroke-width="1.05"/>
<circle cx="101.3" cy="270" r="2.05" fill="#a44a82" stroke="#4d1538" stroke-width="1.05"/>
<circle cx="90.6" cy="293" r="2.05" fill="#a44a82" stroke="#4d1538" stroke-width="1.05"/>
<circle cx="161.3" cy="237.3" r="2.05" fill="#a44a82" stroke="#4d1538" stroke-width="1.05"/>
<circle cx="186.2" cy="236" r="2.05" fill="#a44a82" stroke="#4d1538" stroke-width="1.05"/>
<circle cx="160.4" cy="248.5" r="2.05" fill="#a44a82" stroke="#4d1538" stroke-width="1.05"/>
<circle cx="169" cy="252.3" r="2.05" fill="#a44a82" stroke="#4d1538" stroke-width="1.05"/>
<circle cx="159" cy="260" r="2.05" fill="#a44a82" stroke="#4d1538" stroke-width="1.05"/>
<circle cx="160.4" cy="263.8" r="2.05" fill="#a44a82" stroke="#4d1538" stroke-width="1.05"/>
<circle cx="168" cy="268" r="2.05" fill="#a44a82" stroke="#4d1538" stroke-width="1.05"/>
<circle cx="153.7" cy="276.7" r="2.05" fill="#3a1c47" stroke="#160a1c" stroke-width="1.05"/>
<circle cx="211.7" cy="235.7" r="2.05" fill="#7585a8" stroke="#25304a" stroke-width="1.05"/>
<circle cx="214.9" cy="235.7" r="2.05" fill="#7585a8" stroke="#25304a" stroke-width="1.05"/>
<circle cx="192.5" cy="257" r="2.05" fill="#5580b5" stroke="#1c3352" stroke-width="1.05"/>
<circle cx="135.3" cy="281.8" r="2.05" fill="#5580b5" stroke="#1c3352" stroke-width="1.05"/>
<circle cx="105" cy="356.2" r="2.05" fill="#5580b5" stroke="#1c3352" stroke-width="1.05"/>
<circle cx="74.8" cy="363" r="2.05" fill="#5580b5" stroke="#1c3352" stroke-width="1.05"/>
<line x1="263.5" y1="230.5" x2="263.5" y2="383.8" stroke="#222" stroke-width="1.1" />
<line x1="263.0" y1="383.3" x2="447.7" y2="383.3" stroke="#222" stroke-width="1.1" />
<line x1="260.0" y1="237.2" x2="263.5" y2="237.2" stroke="#222" stroke-width="0.9" />
<text x="257.3" y="239.6" font-size="6.8" text-anchor="end" fill="#333" font-weight="normal" >1</text>
<line x1="260.0" y1="277.0" x2="263.5" y2="277.0" stroke="#222" stroke-width="0.9" />
<text x="257.3" y="279.4" font-size="6.8" text-anchor="end" fill="#333" font-weight="normal" >0</text>
<line x1="260.0" y1="316.8" x2="263.5" y2="316.8" stroke="#222" stroke-width="0.9" />
<text x="257.3" y="319.2" font-size="6.8" text-anchor="end" fill="#333" font-weight="normal" >−1</text>
<line x1="260.0" y1="356.6" x2="263.5" y2="356.6" stroke="#222" stroke-width="0.9" />
<text x="257.3" y="359.0" font-size="6.8" text-anchor="end" fill="#333" font-weight="normal" >−2</text>
<line x1="293.5" y1="383.3" x2="293.5" y2="386.6" stroke="#222" stroke-width="0.9" />
<text x="293.5" y="395.3" font-size="6.8" text-anchor="middle" fill="#333" font-weight="normal" >−2</text>
<line x1="338.09999999999997" y1="383.3" x2="338.09999999999997" y2="386.6" stroke="#222" stroke-width="0.9" />
<text x="338.09999999999997" y="395.3" font-size="6.8" text-anchor="middle" fill="#333" font-weight="normal" >−1</text>
<line x1="382.7" y1="383.3" x2="382.7" y2="386.6" stroke="#222" stroke-width="0.9" />
<text x="382.7" y="395.3" font-size="6.8" text-anchor="middle" fill="#333" font-weight="normal" >0</text>
<line x1="427.3" y1="383.3" x2="427.3" y2="386.6" stroke="#222" stroke-width="0.9" />
<text x="427.3" y="395.3" font-size="6.8" text-anchor="middle" fill="#333" font-weight="normal" >1</text>
<text x="245.5" y="307.0" font-size="8.0" text-anchor="middle" fill="#2a2a2a" font-weight="normal" transform="rotate(-90 245.5 307.0)" textLength="66.30" lengthAdjust="spacingAndGlyphs" >Z-score AUC bosutinib</text>
<text x="324.7" y="406.5" font-size="8.2" text-anchor="start" fill="#2a2a2a" font-weight="normal" textLength="61.40" lengthAdjust="spacingAndGlyphs" >Z-score AUC imatinib</text>
<line x1="264.4" y1="381.7" x2="435.8" y2="230.6" stroke="#c2c2c2" stroke-width="1.3" />
<text x="349.3" y="377.7" font-size="6.9" text-anchor="start" fill="#333" font-weight="normal" textLength="93.80" lengthAdjust="spacingAndGlyphs" >BCR::ABL1, rho = 0.90, <tspan font-style="italic">P</tspan> &lt; .001</text>
<circle cx="412.5" cy="246.5" r="2.05" fill="#ffffff" stroke="#3a3a3a" stroke-width="1.05"/>
<circle cx="423.7" cy="259.8" r="2.05" fill="#ffffff" stroke="#3a3a3a" stroke-width="1.05"/>
<circle cx="409.8" cy="266.2" r="2.05" fill="#ffffff" stroke="#3a3a3a" stroke-width="1.05"/>
<circle cx="414.6" cy="271.3" r="2.05" fill="#ffffff" stroke="#3a3a3a" stroke-width="1.05"/>
<circle cx="402.9" cy="276.2" r="2.05" fill="#ffffff" stroke="#3a3a3a" stroke-width="1.05"/>
<circle cx="398.3" cy="292.5" r="2.05" fill="#ffffff" stroke="#3a3a3a" stroke-width="1.05"/>
<circle cx="390.6" cy="301.7" r="2.05" fill="#ffffff" stroke="#3a3a3a" stroke-width="1.05"/>
<circle cx="346.9" cy="297.5" r="2.05" fill="#ffffff" stroke="#3a3a3a" stroke-width="1.05"/>
<circle cx="354" cy="317.1" r="2.05" fill="#ffffff" stroke="#3a3a3a" stroke-width="1.05"/>
<circle cx="375.6" cy="316.7" r="2.05" fill="#ffffff" stroke="#3a3a3a" stroke-width="1.05"/>
<circle cx="390.7" cy="241.7" r="2.05" fill="#ffffff" stroke="#3a3a3a" stroke-width="1.05"/>
<circle cx="439.6" cy="258" r="2.05" fill="#ffffff" stroke="#3a3a3a" stroke-width="1.05"/>
<circle cx="325.6" cy="319.3" r="2.05" fill="#ffffff" stroke="#3a3a3a" stroke-width="1.05"/>
<circle cx="319.8" cy="323.1" r="2.05" fill="#ffffff" stroke="#3a3a3a" stroke-width="1.05"/>
<circle cx="362.5" cy="325.4" r="2.05" fill="#ffffff" stroke="#3a3a3a" stroke-width="1.05"/>
<circle cx="381.2" cy="334.6" r="2.05" fill="#ffffff" stroke="#3a3a3a" stroke-width="1.05"/>
<circle cx="315.5" cy="340.4" r="2.05" fill="#ffffff" stroke="#3a3a3a" stroke-width="1.05"/>
<circle cx="281.2" cy="360" r="2.05" fill="#ffffff" stroke="#3a3a3a" stroke-width="1.05"/>
<circle cx="311.1" cy="369.2" r="2.05" fill="#ffffff" stroke="#3a3a3a" stroke-width="1.05"/>
<circle cx="439.5" cy="241.9" r="2.05" fill="#ffffff" stroke="#3a3a3a" stroke-width="1.05"/>
<circle cx="324.2" cy="269" r="2.05" fill="#9cc592" stroke="#3a5538" stroke-width="1.05"/>
<circle cx="316.3" cy="263.8" r="2.05" fill="#a44a82" stroke="#4d1538" stroke-width="1.05"/>
<circle cx="327" cy="260.6" r="2.05" fill="#a44a82" stroke="#4d1538" stroke-width="1.05"/>
<circle cx="386.5" cy="241.7" r="2.05" fill="#a44a82" stroke="#4d1538" stroke-width="1.05"/>
<circle cx="394.2" cy="241.7" r="2.05" fill="#a44a82" stroke="#4d1538" stroke-width="1.05"/>
<circle cx="411.5" cy="241.7" r="2.05" fill="#a44a82" stroke="#4d1538" stroke-width="1.05"/>
<circle cx="384.5" cy="251.5" r="2.05" fill="#a44a82" stroke="#4d1538" stroke-width="1.05"/>
<circle cx="379.2" cy="259.4" r="2.05" fill="#3a1c47" stroke="#160a1c" stroke-width="1.05"/>
<circle cx="331" cy="302.3" r="2.05" fill="#5580b5" stroke="#1c3352" stroke-width="1.05"/>
<circle cx="418" cy="256" r="2.05" fill="#5580b5" stroke="#1c3352" stroke-width="1.05"/>
<circle cx="437.4" cy="241.9" r="2.05" fill="#5580b5" stroke="#1c3352" stroke-width="1.05"/>
<circle cx="361" cy="330.9" r="2.05" fill="#5580b5" stroke="#1c3352" stroke-width="1.05"/>
<circle cx="300.5" cy="362" r="2.05" fill="#5580b5" stroke="#1c3352" stroke-width="1.05"/>
<text x="465.2" y="237.2" font-size="7.0" text-anchor="start" fill="#333" font-weight="normal" textLength="47.90" lengthAdjust="spacingAndGlyphs" >ABL-class kinase</text>
<circle cx="468.1" cy="244.4" r="1.9" fill="#5580b5" stroke="#1c3352" stroke-width="0.8"/>
<text x="473.3" y="246.9" font-size="7.0" text-anchor="start" fill="#333" font-weight="normal" textLength="14.98" lengthAdjust="spacingAndGlyphs" >ABL1</text>
<circle cx="468.1" cy="252.65" r="1.9" fill="#9cc592" stroke="#3a5538" stroke-width="0.8"/>
<text x="473.3" y="255.15" font-size="7.0" text-anchor="start" fill="#333" font-weight="normal" textLength="14.98" lengthAdjust="spacingAndGlyphs" >ABL2</text>
<circle cx="468.1" cy="260.9" r="1.9" fill="#ffffff" stroke="#3a3a3a" stroke-width="0.8"/>
<text x="473.3" y="263.4" font-size="7.0" text-anchor="start" fill="#333" font-weight="normal" textLength="31.32" lengthAdjust="spacingAndGlyphs" >BCR::ABL1</text>
<circle cx="468.1" cy="269.15" r="1.9" fill="#3a1c47" stroke="#160a1c" stroke-width="0.8"/>
<text x="473.3" y="271.65" font-size="7.0" text-anchor="start" fill="#333" font-weight="normal" textLength="20.08" lengthAdjust="spacingAndGlyphs" >CSF1R</text>
<circle cx="468.1" cy="277.4" r="1.9" fill="#a44a82" stroke="#4d1538" stroke-width="0.8"/>
<text x="473.3" y="279.9" font-size="7.0" text-anchor="start" fill="#333" font-weight="normal" textLength="25.52" lengthAdjust="spacingAndGlyphs" >PDGFRB</text>
<text x="100.0" y="434.7" font-size="11.6" text-anchor="start" fill="#111" font-weight="bold" >F</text>
<text x="234.0" y="434.8" font-size="11.6" text-anchor="start" fill="#111" font-weight="bold" >G</text>
<rect x="110.60" y="450.60" width="34.60" height="17.20" fill="#6c4396"/>
<rect x="147.45" y="450.60" width="34.60" height="17.20" fill="#74449a"/>
<rect x="184.30" y="450.60" width="34.60" height="17.20" fill="#7a489e"/>
<rect x="110.60" y="469.58" width="34.60" height="17.20" fill="#8a4ea6"/>
<rect x="147.45" y="469.58" width="34.60" height="17.20" fill="#9e56a6"/>
<rect x="184.30" y="469.58" width="34.60" height="17.20" fill="#9558a8"/>
<rect x="110.60" y="488.56" width="34.60" height="17.20" fill="#e68e94"/>
<rect x="147.45" y="488.56" width="34.60" height="17.20" fill="#d977a8"/>
<rect x="184.30" y="488.56" width="34.60" height="17.20" fill="#f2bf6e"/>
<rect x="110.60" y="507.54" width="34.60" height="17.20" fill="#f2b57e"/>
<rect x="147.45" y="507.54" width="34.60" height="17.20" fill="#f3e443"/>
<rect x="184.30" y="507.54" width="34.60" height="17.20" fill="#e99c8c"/>
<rect x="110.60" y="526.52" width="34.60" height="17.20" fill="#f3e63c"/>
<rect x="147.45" y="526.52" width="34.60" height="17.20" fill="#efe01a"/>
<rect x="184.30" y="526.52" width="34.60" height="17.20" fill="#f0e132"/>
<text x="164.3" y="446.5" font-size="7.0" text-anchor="middle" fill="#333" font-weight="normal" textLength="14.90" lengthAdjust="spacingAndGlyphs" >ABL1</text>
<text x="105.5" y="497.3" font-size="6.8" text-anchor="middle" fill="#333" font-weight="normal" transform="rotate(-90 105.5 497.3)" textLength="23.40" lengthAdjust="spacingAndGlyphs" >Patients</text>
<text x="129.9" y="547.0" font-size="6.8" text-anchor="end" fill="#333" font-weight="normal" transform="rotate(-90 129.9 547.0)" >imatinib</text>
<text x="166.0" y="547.0" font-size="6.8" text-anchor="end" fill="#333" font-weight="normal" transform="rotate(-90 166.0 547.0)" >dasatinib</text>
<text x="203.20000000000002" y="547.0" font-size="6.8" text-anchor="end" fill="#333" font-weight="normal" transform="rotate(-90 203.20000000000002 547.0)" >bosutinib</text>
<rect x="245.00" y="451.10" width="34.60" height="11.60" fill="#8a4ea6"/>
<rect x="281.50" y="451.10" width="34.60" height="11.60" fill="#6e3f98"/>
<rect x="318.00" y="451.10" width="34.60" height="11.60" fill="#7a449e"/>
<rect x="245.00" y="464.50" width="34.60" height="11.60" fill="#c06aaa"/>
<rect x="281.50" y="464.50" width="34.60" height="11.60" fill="#8c4fa6"/>
<rect x="318.00" y="464.50" width="34.60" height="11.60" fill="#7a449e"/>
<rect x="245.00" y="477.90" width="34.60" height="11.60" fill="#c86fac"/>
<rect x="281.50" y="477.90" width="34.60" height="11.60" fill="#cd72ab"/>
<rect x="318.00" y="477.90" width="34.60" height="11.60" fill="#71409b"/>
<rect x="245.00" y="491.30" width="34.60" height="11.60" fill="#d176ad"/>
<rect x="281.50" y="491.30" width="34.60" height="11.60" fill="#6a3c98"/>
<rect x="318.00" y="491.30" width="34.60" height="11.60" fill="#71409b"/>
<rect x="245.00" y="504.70" width="34.60" height="11.60" fill="#cf74ad"/>
<rect x="281.50" y="504.70" width="34.60" height="11.60" fill="#b862aa"/>
<rect x="318.00" y="504.70" width="34.60" height="11.60" fill="#6e3f98"/>
<rect x="245.00" y="518.10" width="34.60" height="11.60" fill="#d176ad"/>
<rect x="281.50" y="518.10" width="34.60" height="11.60" fill="#8a4da5"/>
<rect x="318.00" y="518.10" width="34.60" height="11.60" fill="#6e3f98"/>
<rect x="245.00" y="531.50" width="34.60" height="11.60" fill="#d076ad"/>
<rect x="281.50" y="531.50" width="34.60" height="11.60" fill="#a35aa8"/>
<rect x="318.00" y="531.50" width="34.60" height="11.60" fill="#7a449e"/>
<rect x="245.00" y="544.90" width="34.60" height="11.60" fill="#f3e63c"/>
<rect x="281.50" y="544.90" width="34.60" height="11.60" fill="#c86fac"/>
<rect x="318.00" y="544.90" width="34.60" height="11.60" fill="#9a57a8"/>
<rect x="245.00" y="558.30" width="34.60" height="11.60" fill="#efe01a"/>
<rect x="281.50" y="558.30" width="34.60" height="11.60" fill="#e8988e"/>
<rect x="318.00" y="558.30" width="34.60" height="11.60" fill="#b965ab"/>
<text x="298.3" y="446.5" font-size="7.0" text-anchor="middle" fill="#333" font-weight="normal" textLength="25.67" lengthAdjust="spacingAndGlyphs" >PDGFRB</text>
<text x="239.7" y="510.4" font-size="6.8" text-anchor="middle" fill="#333" font-weight="normal" transform="rotate(-90 239.7 510.4)" textLength="23.10" lengthAdjust="spacingAndGlyphs" >Patients</text>
<text x="264.9" y="574.0" font-size="6.8" text-anchor="end" fill="#333" font-weight="normal" transform="rotate(-90 264.9 574.0)" >imatinib</text>
<text x="301.2" y="574.0" font-size="6.8" text-anchor="end" fill="#333" font-weight="normal" transform="rotate(-90 301.2 574.0)" >dasatinib</text>
<text x="337.4" y="574.0" font-size="6.8" text-anchor="end" fill="#333" font-weight="normal" transform="rotate(-90 337.4 574.0)" >bosutinib</text>
<defs><linearGradient id="cb" x1="0" y1="0" x2="0" y2="1">
<stop offset="0" stop-color="#6a3b98"/>
<stop offset="0.18" stop-color="#7d45a1"/>
<stop offset="0.33" stop-color="#9a55a8"/>
<stop offset="0.45" stop-color="#c86fac"/>
<stop offset="0.55" stop-color="#e88e9c"/>
<stop offset="0.66" stop-color="#f3b57a"/>
<stop offset="0.80" stop-color="#f3e040"/>
<stop offset="1" stop-color="#f0e614"/>
</linearGradient></defs>
<rect x="372.3" y="462.3" width="11.5" height="70" fill="url(#cb)"/>
<line x1="372.3" y1="465.4" x2="374.3" y2="465.4" stroke="#fff" stroke-width="0.8" />
<line x1="381.8" y1="465.4" x2="383.8" y2="465.4" stroke="#fff" stroke-width="0.8" />
<text x="386.0" y="467.9" font-size="7.0" text-anchor="start" fill="#333" font-weight="normal" >2</text>
<line x1="372.3" y1="478.5" x2="374.3" y2="478.5" stroke="#fff" stroke-width="0.8" />
<line x1="381.8" y1="478.5" x2="383.8" y2="478.5" stroke="#fff" stroke-width="0.8" />
<text x="386.0" y="481.0" font-size="7.0" text-anchor="start" fill="#333" font-weight="normal" >1</text>
<line x1="372.3" y1="492.3" x2="374.3" y2="492.3" stroke="#fff" stroke-width="0.8" />
<line x1="381.8" y1="492.3" x2="383.8" y2="492.3" stroke="#fff" stroke-width="0.8" />
<text x="386.0" y="494.8" font-size="7.0" text-anchor="start" fill="#333" font-weight="normal" >0</text>
<line x1="372.3" y1="505.4" x2="374.3" y2="505.4" stroke="#fff" stroke-width="0.8" />
<line x1="381.8" y1="505.4" x2="383.8" y2="505.4" stroke="#fff" stroke-width="0.8" />
<text x="386.0" y="507.9" font-size="7.0" text-anchor="start" fill="#333" font-weight="normal" >−1</text>
<line x1="372.3" y1="517.6" x2="374.3" y2="517.6" stroke="#fff" stroke-width="0.8" />
<line x1="381.8" y1="517.6" x2="383.8" y2="517.6" stroke="#fff" stroke-width="0.8" />
<text x="386.0" y="520.1" font-size="7.0" text-anchor="start" fill="#333" font-weight="normal" >−2</text>
<line x1="372.3" y1="529.5" x2="374.3" y2="529.5" stroke="#fff" stroke-width="0.8" />
<line x1="381.8" y1="529.5" x2="383.8" y2="529.5" stroke="#fff" stroke-width="0.8" />
<text x="386.0" y="532.0" font-size="7.0" text-anchor="start" fill="#333" font-weight="normal" >−3</text>
<text x="373.0" y="457.8" font-size="7.0" text-anchor="start" fill="#333" font-weight="normal" textLength="20.00" lengthAdjust="spacingAndGlyphs" >Z score</text>
<text x="400.3" y="465.8" font-size="7.0" text-anchor="start" fill="#333" font-weight="normal" textLength="23.50" lengthAdjust="spacingAndGlyphs" >resistant</text>
<text x="400.3" y="534.0" font-size="7.0" text-anchor="start" fill="#333" font-weight="normal" textLength="24.30" lengthAdjust="spacingAndGlyphs" >sensitive</text>
<rect x="118.9" y="614.4" width="86.00" height="55.88" fill="none" stroke="#333" stroke-width="0.9"/>
<line x1="118.9" y1="628.37" x2="204.9" y2="628.37" stroke="#333" stroke-width="0.9" />
<line x1="118.9" y1="642.34" x2="204.9" y2="642.34" stroke="#333" stroke-width="0.9" />
<line x1="118.9" y1="656.31" x2="204.9" y2="656.31" stroke="#333" stroke-width="0.9" />
<line x1="157.5" y1="614.4" x2="157.5" y2="670.28" stroke="#333" stroke-width="0.9" />
<line x1="177.4" y1="614.4" x2="177.4" y2="670.28" stroke="#333" stroke-width="0.9" />
<text x="120.9" y="623.1" font-size="6.4" text-anchor="start" fill="#3a3a3a" font-weight="normal" class="nb">ABL1</text>
<text x="167.45" y="623.1" font-size="6.4" text-anchor="middle" fill="#3a3a3a" font-weight="normal" class="nb">Rho</text>
<text x="191.15" y="623.1" font-size="6.4" text-anchor="middle" fill="#3a3a3a" font-weight="normal" class="nb"><tspan font-style="italic">P</tspan>-value</text>
<text x="120.9" y="637.07" font-size="6.4" text-anchor="start" fill="#3a3a3a" font-weight="normal" class="nb">ima-dasa</text>
<text x="167.45" y="637.07" font-size="6.4" text-anchor="middle" fill="#3a3a3a" font-weight="normal" class="nb">1</text>
<text x="191.15" y="637.07" font-size="6.4" text-anchor="middle" fill="#3a3a3a" font-weight="normal" class="nb">.02</text>
<text x="120.9" y="651.0400000000001" font-size="6.4" text-anchor="start" fill="#3a3a3a" font-weight="normal" class="nb">ima-bosu</text>
<text x="167.45" y="651.0400000000001" font-size="6.4" text-anchor="middle" fill="#3a3a3a" font-weight="normal" class="nb">0.9</text>
<text x="191.15" y="651.0400000000001" font-size="6.4" text-anchor="middle" fill="#3a3a3a" font-weight="normal" class="nb">.08</text>
<text x="120.9" y="665.01" font-size="6.4" text-anchor="start" fill="#3a3a3a" font-weight="normal" class="nb">dasa-bosu</text>
<text x="167.45" y="665.01" font-size="6.4" text-anchor="middle" fill="#3a3a3a" font-weight="normal" class="nb">0.9</text>
<text x="191.15" y="665.01" font-size="6.4" text-anchor="middle" fill="#3a3a3a" font-weight="normal" class="nb">.08</text>
<rect x="254.7" y="614.4" width="86.80" height="55.88" fill="none" stroke="#333" stroke-width="0.9"/>
<line x1="254.7" y1="628.37" x2="341.49999999999994" y2="628.37" stroke="#333" stroke-width="0.9" />
<line x1="254.7" y1="642.34" x2="341.49999999999994" y2="642.34" stroke="#333" stroke-width="0.9" />
<line x1="254.7" y1="656.31" x2="341.49999999999994" y2="656.31" stroke="#333" stroke-width="0.9" />
<line x1="293.9" y1="614.4" x2="293.9" y2="670.28" stroke="#333" stroke-width="0.9" />
<line x1="313.79999999999995" y1="614.4" x2="313.79999999999995" y2="670.28" stroke="#333" stroke-width="0.9" />
<text x="256.7" y="623.1" font-size="6.4" text-anchor="start" fill="#3a3a3a" font-weight="normal" class="nb">PDGFRB</text>
<text x="303.84999999999997" y="623.1" font-size="6.4" text-anchor="middle" fill="#3a3a3a" font-weight="normal" class="nb">Rho</text>
<text x="327.65" y="623.1" font-size="6.4" text-anchor="middle" fill="#3a3a3a" font-weight="normal" class="nb"><tspan font-style="italic">P</tspan>-value</text>
<text x="256.7" y="637.07" font-size="6.4" text-anchor="start" fill="#3a3a3a" font-weight="normal" class="nb">ima-dasa</text>
<text x="303.84999999999997" y="637.07" font-size="6.4" text-anchor="middle" fill="#3a3a3a" font-weight="normal" class="nb">0.68</text>
<text x="327.65" y="637.07" font-size="6.4" text-anchor="middle" fill="#3a3a3a" font-weight="normal" class="nb">.05</text>
<text x="256.7" y="651.0400000000001" font-size="6.4" text-anchor="start" fill="#3a3a3a" font-weight="normal" class="nb">ima-bosu</text>
<text x="303.84999999999997" y="651.0400000000001" font-size="6.4" text-anchor="middle" fill="#3a3a3a" font-weight="normal" class="nb">0.84</text>
<text x="327.65" y="651.0400000000001" font-size="6.4" text-anchor="middle" fill="#3a3a3a" font-weight="normal" class="nb">.004</text>
<text x="256.7" y="665.01" font-size="6.4" text-anchor="start" fill="#3a3a3a" font-weight="normal" class="nb">dasa-bosu</text>
<text x="303.84999999999997" y="665.01" font-size="6.4" text-anchor="middle" fill="#3a3a3a" font-weight="normal" class="nb">0.7</text>
<text x="327.65" y="665.01" font-size="6.4" text-anchor="middle" fill="#3a3a3a" font-weight="normal" class="nb">.03</text>
<rect x="0.6" y="0.6" width="518.8" height="675.8" fill="none" stroke="#555" stroke-width="1.3"/>
</svg></body></html>
